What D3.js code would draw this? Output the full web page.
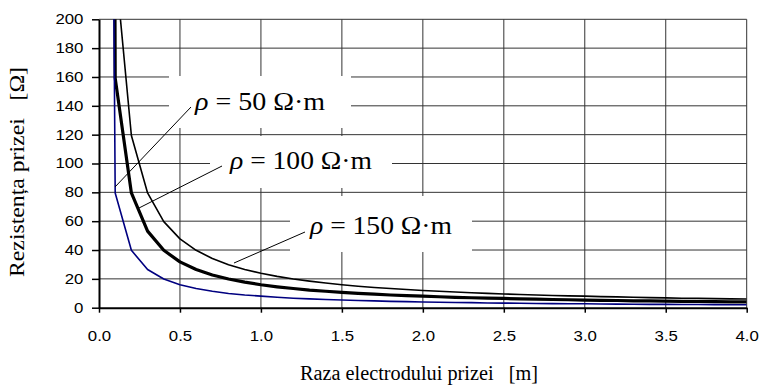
<!DOCTYPE html>
<html>
<head>
<meta charset="utf-8">
<script src="https://cdn.jsdelivr.net/npm/d3@7"></script>
<style>
  body { margin: 0; background: #fff; }
  svg { display: block; }
</style>
</head>
<body>
<div id="chart"></div>
<script>
// electrode radius [m]
const radius = [0.005,
  0.1, 0.2, 0.3, 0.4, 0.5, 0.6, 0.7, 0.8, 0.9, 1.0,
  1.1, 1.2, 1.3, 1.4, 1.5, 1.6, 1.7, 1.8, 1.9, 2.0,
  2.1, 2.2, 2.3, 2.4, 2.5, 2.6, 2.7, 2.8, 2.9, 3.0,
  3.1, 3.2, 3.3, 3.4, 3.5, 3.6, 3.7, 3.8, 3.9, 4.0];

// resistance [ohm] for each resistivity
const r50 = [1592,
  79.6, 39.8, 26.5, 19.9, 15.9, 13.3, 11.4, 9.9, 8.8, 8.0,
  7.2, 6.6, 6.1, 5.7, 5.3, 5.0, 4.7, 4.4, 4.2, 4.0,
  3.8, 3.6, 3.5, 3.3, 3.2, 3.1, 2.9, 2.8, 2.7, 2.7,
  2.6, 2.5, 2.4, 2.3, 2.3, 2.2, 2.2, 2.1, 2.0, 2.0];
const r100 = [3183,
  159.2, 79.6, 53.1, 39.8, 31.8, 26.5, 22.7, 19.9, 17.7, 15.9,
  14.5, 13.3, 12.2, 11.4, 10.6, 9.9, 9.4, 8.8, 8.4, 8.0,
  7.6, 7.2, 6.9, 6.6, 6.4, 6.1, 5.9, 5.7, 5.5, 5.3,
  5.1, 5.0, 4.8, 4.7, 4.5, 4.4, 4.3, 4.2, 4.1, 4.0];
const r150 = [4775,
  238.7, 119.4, 79.6, 59.7, 47.7, 39.8, 34.1, 29.8, 26.5, 23.9,
  21.7, 19.9, 18.4, 17.1, 15.9, 14.9, 14.0, 13.3, 12.6, 11.9,
  11.4, 10.9, 10.4, 9.9, 9.5, 9.2, 8.8, 8.5, 8.2, 8.0,
  7.7, 7.5, 7.2, 7.0, 6.8, 6.6, 6.5, 6.3, 6.1, 6.0];

const xTicks = [0, 0.5, 1, 1.5, 2, 2.5, 3, 3.5, 4];
const yTicks = [0, 20, 40, 60, 80, 100, 120, 140, 160, 180, 200];

const W = 759, H = 387;
const margin = { top: 19.3, right: 12.3, bottom: 79.3, left: 99 };
const width = W - margin.left - margin.right;
const height = H - margin.top - margin.bottom;

const svg = d3.select('#chart').append('svg')
  .attr('width', W)
  .attr('height', H);

const g = svg.append('g')
  .attr('transform', `translate(${margin.left},${margin.top})`);

const x = d3.scaleLinear().domain([0, 4]).range([0, width]);
const y = d3.scaleLinear().domain([0, 200]).range([height, 0]);

// grid
g.append('g').selectAll('line.h').data(yTicks.slice(1)).join('line')
  .attr('x1', 0).attr('x2', width)
  .attr('y1', d => y(d)).attr('y2', d => y(d))
  .attr('stroke', '#333').attr('stroke-width', 1);
g.append('g').selectAll('line.v').data(xTicks.slice(1)).join('line')
  .attr('x1', d => x(d)).attr('x2', d => x(d))
  .attr('y1', 0).attr('y2', height)
  .attr('stroke', '#333').attr('stroke-width', 1);

// white label boxes that hide the grid
const boxes = [
  { x0: 169, y0: 76, x1: 351, y1: 128 },
  { x0: 210, y0: 136, x1: 392, y1: 188 },
  { x0: 290, y0: 196, x1: 472, y1: 252 }
];
svg.append('g').selectAll('rect').data(boxes).join('rect')
  .attr('x', d => d.x0).attr('y', d => d.y0)
  .attr('width', d => d.x1 - d.x0).attr('height', d => d.y1 - d.y0)
  .attr('fill', '#fff');

// axes
const yAxis = g.append('g')
  .call(d3.axisLeft(y).tickValues(yTicks).tickSize(7).tickPadding(6).tickSizeOuter(0));
const xAxis = g.append('g')
  .attr('transform', `translate(0,${height})`)
  .call(d3.axisBottom(x).tickValues(xTicks).tickSize(5).tickPadding(18)
    .tickFormat(d3.format('.1f')).tickSizeOuter(0));

[yAxis, xAxis].forEach(a => {
  a.select('.domain').attr('stroke', '#000').attr('stroke-width', 2);
  a.selectAll('.tick line').attr('stroke', '#000').attr('stroke-width', 1.5);
  a.selectAll('.tick text')
    .attr('fill', '#000')
    .attr('font-family', '"Liberation Sans", Arial, sans-serif')
    .attr('font-size', 14)
    .attr('transform', 'scale(1.2,1)');
});

// curves
g.append('clipPath').attr('id', 'clip')
  .append('rect').attr('width', width).attr('height', height);

const line = d3.line()
  .x(d => x(d[0]))
  .y(d => y(d[1]));

const series = [
  { values: r150, color: '#000', w: 1.6 },
  { values: r100, color: '#000', w: 3.2 },
  { values: r50, color: '#000080', w: 1.6 }
];
g.append('g').attr('clip-path', 'url(#clip)')
  .selectAll('path').data(series).join('path')
  .attr('d', s => line(radius.map((r, i) => [r, s.values[i]])))
  .attr('fill', 'none')
  .attr('stroke', s => s.color)
  .attr('stroke-width', s => s.w)
  .attr('stroke-linejoin', 'round');

// leader lines
const leaders = [
  [115, 187, 191, 107],
  [139, 208, 222, 166],
  [234, 263, 305, 232]
];
svg.append('g').selectAll('line').data(leaders).join('line')
  .attr('x1', d => d[0]).attr('y1', d => d[1])
  .attr('x2', d => d[2]).attr('y2', d => d[3])
  .attr('stroke', '#000').attr('stroke-width', 1);

// curve labels
const labels = [
  { rho: '50', x: 195, y: 110, len: 130 },
  { rho: '100', x: 230, y: 169, len: 142 },
  { rho: '150', x: 310, y: 234, len: 142 }
];
const lt = svg.append('g').selectAll('text').data(labels).join('text')
  .attr('x', d => d.x).attr('y', d => d.y)
  .attr('font-family', '"Liberation Serif", "Times New Roman", serif')
  .attr('font-size', 25)
  .attr('textLength', d => d.len)
  .attr('lengthAdjust', 'spacingAndGlyphs');
lt.append('tspan').attr('font-style', 'italic').text('ρ');
lt.append('tspan').text(d => ` = ${d.rho} Ω·m`);

// axis titles
svg.append('text')
  .attr('x', 300).attr('y', 380)
  .attr('font-family', '"Liberation Serif", "Times New Roman", serif')
  .attr('font-size', 20)
  .attr('textLength', 238)
  .attr('lengthAdjust', 'spacingAndGlyphs')
  .attr('xml:space', 'preserve')
  .text('Raza electrodului prizei   [m]');

svg.append('text')
  .attr('transform', 'translate(24,277) rotate(-90)')
  .attr('font-family', '"Liberation Serif", "Times New Roman", serif')
  .attr('font-size', 20)
  .attr('textLength', 210)
  .attr('lengthAdjust', 'spacingAndGlyphs')
  .attr('xml:space', 'preserve')
  .text('Rezistența prizei   [Ω]');
</script>
</body>
</html>
